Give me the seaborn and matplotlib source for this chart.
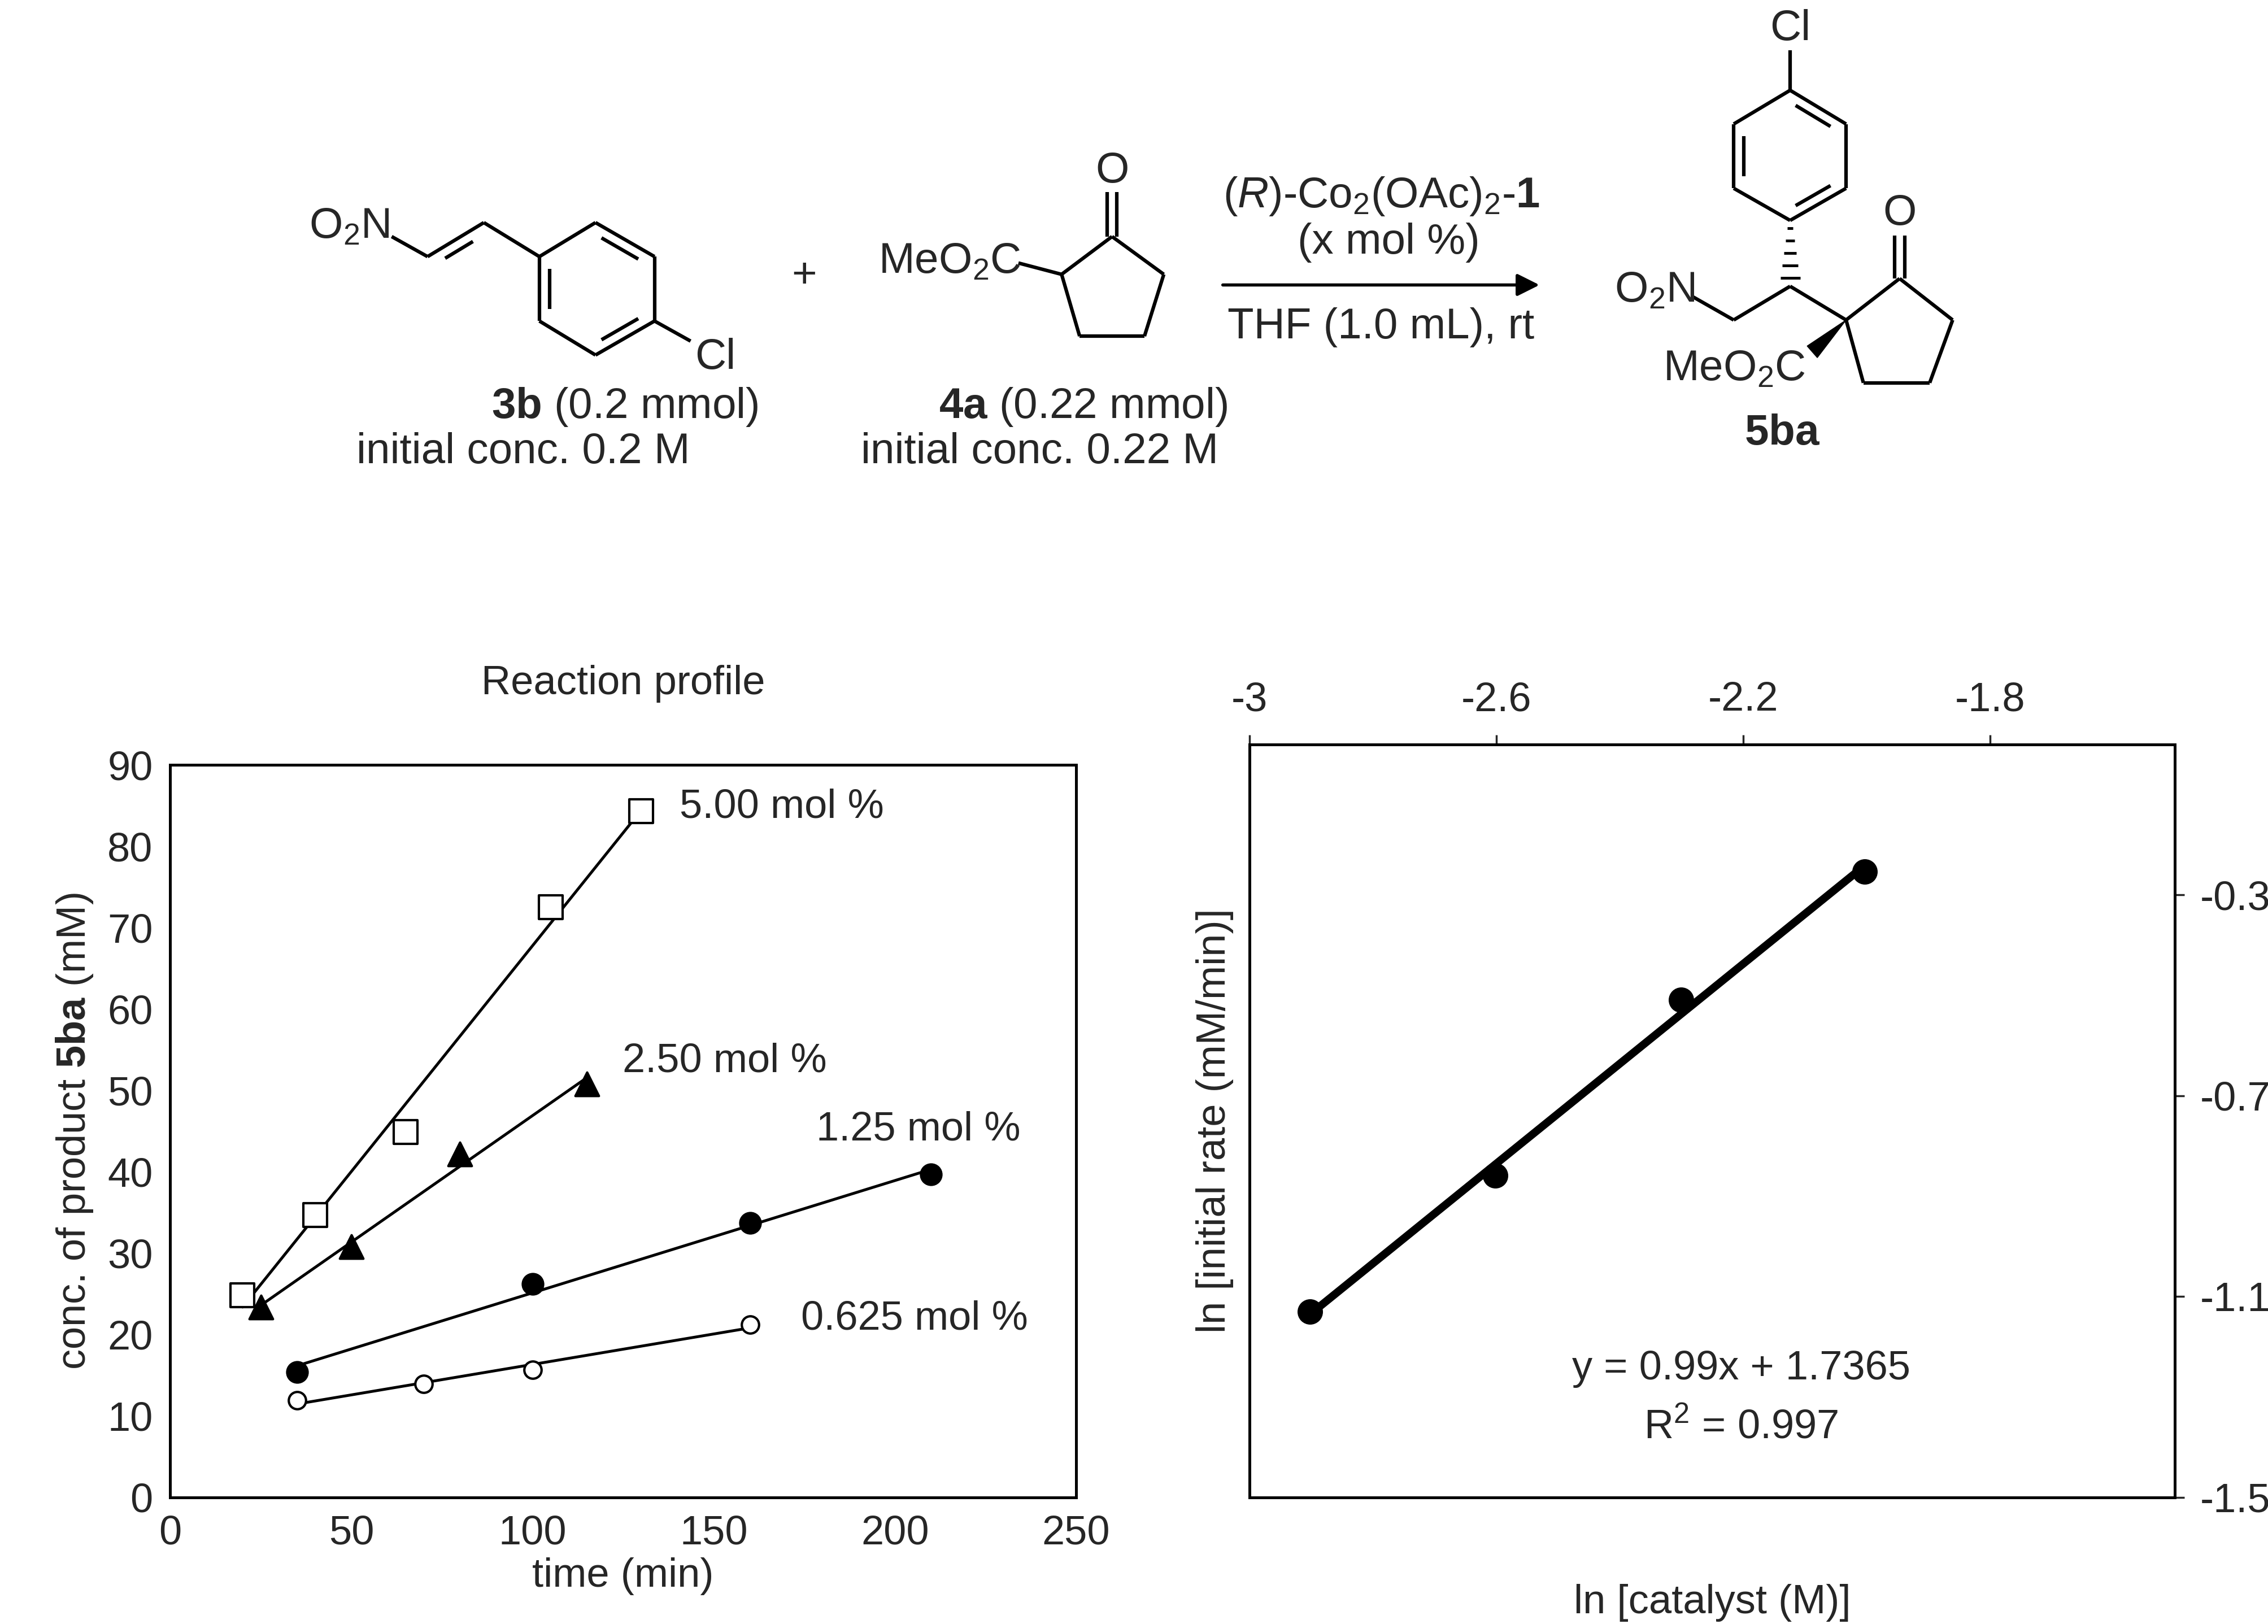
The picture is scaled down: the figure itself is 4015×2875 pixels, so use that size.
import matplotlib
matplotlib.use("Agg")
import matplotlib.pyplot as plt
import numpy as np
import pandas as pd
import seaborn as sns

# reaction profile data (time in min, conc. in mM)
t_500 = [20, 40, 65, 105, 130]
c_500 = [24.8, 34.7, 44.9, 72.5, 84.3]
t_250 = [25, 50, 80, 115]
c_250 = [23.4, 30.8, 42.2, 50.8]
t_125 = [35, 100, 160, 210]
c_125 = [15.4, 26.2, 33.7, 39.7]
t_0625 = [35, 70, 100, 160]
c_0625 = [11.9, 13.9, 15.7, 21.2]
series_labels = ["5.00 mol %", "2.50 mol %", "1.25 mol %", "0.625 mol %"]

# log-log data
ln_cat = [-2.902, -2.602, -2.301, -2.003]
ln_rate = [-1.13, -0.859, -0.509, -0.253]

sns.set_theme(style="white")
FONT = "Liberation Sans"
plt.rcParams.update({
    "font.family": [FONT, "DejaVu Sans"],
    "mathtext.fontset": "custom",
    "mathtext.rm": FONT,
    "mathtext.it": FONT + ":italic",
    "mathtext.bf": FONT + ":bold",
    "axes.edgecolor": "black",
    "axes.linewidth": 3.6,
})

fig = plt.figure(figsize=(40.15, 28.75), dpi=100)
TK = 52

# ---------- left: reaction profile ----------
ax = fig.add_axes([0.075, 0.078, 0.3995, 0.451])
sets = [(t_500, c_500, "s", "white", 30), (t_250, c_250, "^", "black", 30),
        (t_125, c_125, "o", "black", 26), (t_0625, c_0625, "o", "white", 22)]
for (t, c, m, fc, ms) in sets:
    k, b = np.polyfit(t, c, 1)
    xs = np.array([min(t), max(t)])
    ax.plot(xs, k * xs + b, color="black", lw=3.6, zorder=2)
    df = pd.DataFrame({"t": t, "c": c})
    sns.scatterplot(data=df, x="t", y="c", marker=m, s=ms ** 2, facecolor=fc,
                    edgecolor="black", linewidth=3, ax=ax, zorder=3)
for lab, (x, y) in zip(series_labels, [(140.5, 84.8), (124.8, 53.6), (178.3, 45.2), (174.1, 21.9)]):
    ax.text(x, y, lab, fontsize=TK, va="center", ha="left")
ax.set_xlim(0, 250)
ax.set_ylim(0, 90)
ax.set_xticks(range(0, 251, 50))
ax.set_yticks(range(0, 91, 10))
ax.tick_params(labelsize=TK, direction="in", length=12, width=2.5, pad=22)
ax.set_xlabel("time (min)", fontsize=TK, labelpad=6)
ax.set_ylabel(r"conc. of product $\mathbf{5ba}$ (mM)", fontsize=TK, labelpad=16)
ax.set_title("Reaction profile", fontsize=TK, pad=90)

# ---------- right: ln-ln plot ----------
ax2 = fig.add_axes([0.551, 0.078, 0.408, 0.4636])
k, b = np.polyfit(ln_cat, ln_rate, 1)
xs = np.array([min(ln_cat), max(ln_cat)])
ax2.plot(xs, k * xs + b, color="black", lw=10, zorder=2)
sns.scatterplot(x=ln_cat, y=ln_rate, s=30 ** 2, color="black", edgecolor="black", ax=ax2, zorder=3)
ax2.set_xlim(-3, -1.5)
ax2.set_ylim(-1.5, 0)
ax2.set_xticks([-3, -2.6, -2.2, -1.8])
ax2.set_xticklabels(["-3", "-2.6", "-2.2", "-1.8"])
ax2.set_yticks([-1.5, -1.1, -0.7, -0.3])
ax2.set_yticklabels(["-1.5", "-1.1", "-0.7", "-0.3"])
ax2.xaxis.tick_top()
ax2.yaxis.tick_right()
ax2.tick_params(labelsize=TK, direction="out", length=12, width=2.5, pad=20)
ax2.set_xlabel("ln [catalyst (M)]", fontsize=TK, labelpad=110)
ax2.xaxis.set_label_position("bottom")
ax2.set_ylabel("ln [initial rate (mM/min)]", fontsize=TK, labelpad=20)
ax2.yaxis.set_label_position("left")
ax2.text(-2.203, -1.244, "y = 0.99x + 1.7365", fontsize=TK, ha="center", va="center")
ax2.text(-2.203, -1.361, r"R$^2$ = 0.997", fontsize=TK, ha="center", va="center")

# ---------- scheme (drawn in display-pixel frame 1560 x 1117) ----------
sc = fig.add_axes([0, 0, 1, 1], zorder=-1)
sc.set_xlim(0, 1560)
sc.set_ylim(1117, 0)
sc.axis("off")
LW = 4.5
FS = 55


def bond(p, q, lw=LW):
    sc.plot([p[0], q[0]], [p[1], q[1]], color="black", lw=lw, solid_capstyle="butt")


def inner(p, q, c, f=0.18):
    # inner double-bond line shifted towards centre c
    p, q, c = map(np.array, (p, q, c))
    a = p + (c - p) * f
    d = q + (c - q) * f
    s = a + (d - a) * 0.12
    e = a + (d - a) * 0.88
    bond(s, e)


def ring(pts, doubles):
    cen = np.mean(pts, axis=0)
    n = len(pts)
    for i in range(n):
        bond(pts[i], pts[(i + 1) % n])
    for i in doubles:
        inner(pts[i], pts[(i + 1) % n], cen)


# 3b
r1 = [(409.6, 153.1), (450.2, 176.5), (450.2, 220.8), (409.6, 244.2), (371, 220.8), (371, 176.5)]
ring(r1, [0, 2, 4])
bond((269.4, 162.7), (294.1, 176.5))
bond((294.1, 176.5), (332.8, 153.1))
inner((294.1, 176.5), (332.8, 153.1), (320, 185), f=0.35)
bond((332.8, 153.1), (371, 176.5))
bond((450.2, 220.8), (475, 234.6))
sc.text(268, 156, r"O$_2$N", fontsize=FS, ha="right", va="center")
sc.text(478, 246, "Cl", fontsize=FS, ha="left", va="center")
sc.text(430, 280, r"$\mathbf{3b}$ (0.2 mmol)", fontsize=FS, ha="center", va="center")
sc.text(360, 311, "initial conc. 0.2 M", fontsize=FS, ha="center", va="center")
sc.text(553, 190, "+", fontsize=FS, ha="center", va="center")

# 4a
r2 = [(764.9, 162.7), (800.5, 188.7), (787.2, 231.2), (742.6, 231.2), (730.2, 188.7)]
ring(r2, [])
bond((700.5, 180.9), (730.2, 188.7))
bond((761.5, 162.7), (761.5, 132))
bond((768.3, 162.7), (768.3, 132))
sc.text(765, 118, "O", fontsize=FS, ha="center", va="center")
sc.text(702, 180, r"MeO$_2$C", fontsize=FS, ha="right", va="center")
sc.text(745, 280, r"$\mathbf{4a}$ (0.22 mmol)", fontsize=FS, ha="center", va="center")
sc.text(715, 311, "initial conc. 0.22 M", fontsize=FS, ha="center", va="center")

# arrow and conditions
sc.annotate("", xy=(1060, 196), xytext=(840, 196),
            arrowprops=dict(arrowstyle="-|>", color="black", lw=4, mutation_scale=60))
sc.text(950, 135, r"($\mathit{R}$)-Co$_2$(OAc)$_2$-$\mathbf{1}$", fontsize=FS, ha="center", va="center")
sc.text(955, 167, "(x mol %)", fontsize=FS, ha="center", va="center")
sc.text(950, 225, "THF (1.0 mL), rt", fontsize=FS, ha="center", va="center")

# 5ba
r3 = [(1231.3, 62.1), (1269.8, 85.3), (1269.8, 129.5), (1231.3, 151.6), (1192.5, 129.5), (1192.5, 85.3)]
ring(r3, [0, 2, 4])
bond((1231.3, 34.7), (1231.3, 62.1))
sc.text(1231.3, 20, "Cl", fontsize=FS, ha="center", va="center")
for i in range(5):
    yy = 157 + i * 8.5
    w = 2 + i * 1.2
    bond((1231.3 - w, yy), (1231.3 + w, yy), lw=3.5)
bond((1231.3, 196.9), (1192.5, 220.1))
bond((1192.5, 220.1), (1164.7, 204.3))
sc.text(1166, 200, r"O$_2$N", fontsize=FS, ha="right", va="center")
bond((1231.3, 196.9), (1269.8, 220.1))
sc.add_patch(plt.Polygon([(1269.8, 220.1), (1243, 238), (1250, 246)], closed=True, color="black"))
sc.text(1193, 254, r"MeO$_2$C", fontsize=FS, ha="center", va="center")
r4 = [(1269.8, 220.1), (1306.6, 191.6), (1343.1, 220.1), (1327.3, 263.3), (1281.7, 263.3)]
ring(r4, [])
bond((1303.2, 191.6), (1303.2, 162))
bond((1310, 191.6), (1310, 162))
sc.text(1306.6, 147, "O", fontsize=FS, ha="center", va="center")
sc.text(1226, 298, r"$\mathbf{5ba}$", fontsize=FS, ha="center", va="center")

fig.savefig("out.png", dpi=100)
